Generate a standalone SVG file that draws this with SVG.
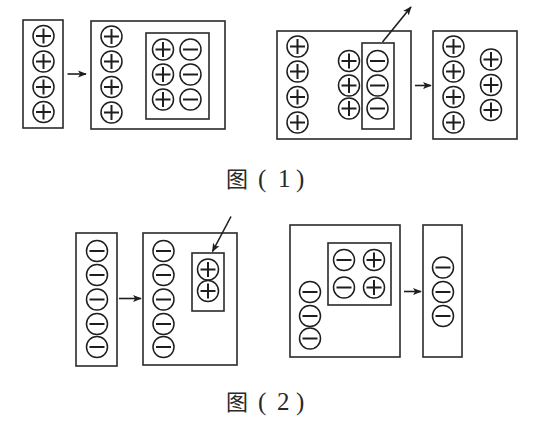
<svg xmlns="http://www.w3.org/2000/svg" xmlns:xlink="http://www.w3.org/1999/xlink" width="540" height="426" viewBox="0 0 540 426">
<style>
.box{fill:none;stroke:#2a2a2a;stroke-width:1.6}
.ion{fill:#fff;stroke:#1e1e1e;stroke-width:1.5}
.sg{stroke:#1e1e1e;stroke-width:2;fill:none}
.con{stroke:#1e1e1e;stroke-width:1.6;fill:none}
.cap{font-family:"Liberation Serif","Noto Sans CJK SC",serif;font-size:25px;fill:#2a2a2a}
</style>
<defs>
<marker id="ah2" viewBox="0 0 10 10" refX="9" refY="5" markerWidth="9" markerHeight="9" orient="auto" markerUnits="userSpaceOnUse">
<path d="M0,1 L10,5 L0,9 L2.5,5 Z" fill="#1e1e1e"/>
</marker>
<g id="p"><circle class="ion" r="10.5"/><path class="sg" d="M-7.5,0H7.5M0,-7.5V7.5"/></g>
<g id="m"><circle class="ion" r="10.5"/><path class="sg" d="M-7.5,0H7.5"/></g>
</defs>
<rect width="540" height="426" fill="#fff"/>

<g id="A">
<rect class="box" x="23" y="20" width="40" height="108"/>
<use href="#p" x="43.5" y="36"/><use href="#p" x="43.5" y="61.5"/><use href="#p" x="43.5" y="87"/><use href="#p" x="43.5" y="112"/>
</g>
<g id="B">
<rect class="box" x="91" y="21" width="134" height="108"/>
<use href="#p" x="111.5" y="36.5"/><use href="#p" x="111.5" y="61.5"/><use href="#p" x="111.5" y="87"/><use href="#p" x="111.5" y="112.5"/>
</g>
<g id="B-inner">
<rect class="box" x="146" y="33" width="63" height="86"/>
<use href="#p" x="163" y="49.5"/><use href="#p" x="163" y="74.5"/><use href="#p" x="163" y="99.5"/>
<use href="#m" x="190.5" y="49.5"/><use href="#m" x="190.5" y="74.5"/><use href="#m" x="190.5" y="99.5"/>
</g>
<g id="C">
<rect class="box" x="277" y="31" width="134" height="108"/>
<use href="#p" x="297.5" y="46.5"/><use href="#p" x="297.5" y="71.5"/><use href="#p" x="297.5" y="97"/><use href="#p" x="297.5" y="122.5"/>
<use href="#p" x="349" y="61"/><use href="#p" x="349" y="85.5"/><use href="#p" x="349" y="108.5"/>
</g>
<g id="C-inner">
<rect class="box" x="362" y="43" width="32" height="86"/>
<use href="#m" x="377.5" y="61"/><use href="#m" x="377.5" y="85.5"/><use href="#m" x="377.5" y="108.5"/>
</g>
<g id="D">
<rect class="box" x="433" y="31" width="84" height="108"/>
<use href="#p" x="453.5" y="46.5"/><use href="#p" x="453.5" y="71.5"/><use href="#p" x="453.5" y="97"/><use href="#p" x="453.5" y="122.5"/>
<use href="#p" x="491" y="59.5"/><use href="#p" x="491" y="85"/><use href="#p" x="491" y="110"/>
</g>

<g id="E">
<rect class="box" x="76" y="233" width="41" height="133"/>
<use href="#m" x="97" y="251"/><use href="#m" x="97" y="275"/><use href="#m" x="97" y="299.5"/><use href="#m" x="97" y="324"/><use href="#m" x="97" y="347"/>
</g>
<g id="F">
<rect class="box" x="143" y="233" width="94" height="132"/>
<use href="#m" x="163.5" y="251"/><use href="#m" x="163.5" y="275"/><use href="#m" x="163.5" y="299.5"/><use href="#m" x="163.5" y="324"/><use href="#m" x="163.5" y="347"/>
</g>
<g id="F-inner">
<rect class="box" x="192" y="253" width="32" height="58"/>
<use href="#p" x="208" y="269.5"/><use href="#p" x="208" y="291"/>
</g>
<g id="G">
<rect class="box" x="290" y="225" width="110" height="132"/>
<use href="#m" x="310" y="292"/><use href="#m" x="310" y="316"/><use href="#m" x="310" y="338.5"/>
</g>
<g id="G-inner">
<rect class="box" x="328" y="243" width="63" height="62"/>
<use href="#m" x="344" y="260"/><use href="#p" x="374" y="260"/>
<use href="#m" x="344" y="287.5"/><use href="#p" x="374" y="287.5"/>
</g>
<g id="H">
<rect class="box" x="423" y="225" width="39" height="132"/>
<use href="#m" x="443" y="267.5"/><use href="#m" x="443" y="292"/><use href="#m" x="443" y="316"/>
</g>

<g id="connectors">
<line class="con" x1="67.5" y1="74" x2="86" y2="74" marker-end="url(#ah2)"/>
<line class="con" x1="382.5" y1="42" x2="411" y2="7" marker-end="url(#ah2)"/>
<line class="con" x1="415" y1="85.5" x2="431" y2="85.5" marker-end="url(#ah2)"/>
<line class="con" x1="119" y1="298.5" x2="141" y2="298.5" marker-end="url(#ah2)"/>
<line class="con" x1="231" y1="216.5" x2="212.5" y2="251.5" marker-end="url(#ah2)"/>
<line class="con" x1="404" y1="291.5" x2="421" y2="291.5" marker-end="url(#ah2)"/>
</g>

<g id="captions">
<text class="cap" y="187"><tspan x="226" font-family="Noto Sans CJK SC,sans-serif" font-size="22">图</tspan><tspan x="258">(</tspan><tspan x="278">1</tspan><tspan x="296">)</tspan></text>
<text class="cap" y="410"><tspan x="226" font-family="Noto Sans CJK SC,sans-serif" font-size="22">图</tspan><tspan x="258">(</tspan><tspan x="277">2</tspan><tspan x="296">)</tspan></text>
</g>
</svg>
